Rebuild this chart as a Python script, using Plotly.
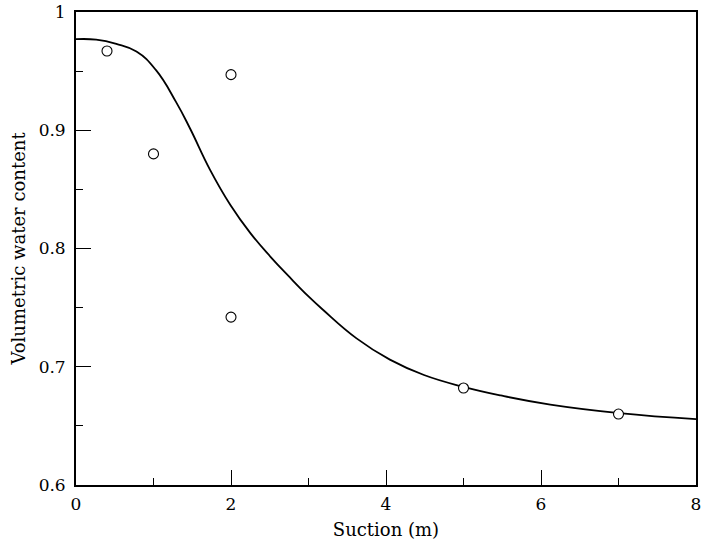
import plotly.graph_objects as go

# Fitted curve
curve_x = [0.0, 0.26, 0.52, 0.78, 1.03, 1.29, 1.47, 1.73, 1.99, 2.25, 2.51, 2.76,
           3.0, 3.19, 3.62, 4.05, 4.49, 5.0, 5.48, 6.12, 7.01, 8.0]
curve_y = [0.977, 0.9766, 0.973, 0.9665, 0.951, 0.924, 0.9017, 0.8665, 0.837, 0.813, 0.793, 0.7755,
           0.7595, 0.748, 0.724, 0.706, 0.693, 0.683, 0.6757, 0.668, 0.6608, 0.6557]

# Measured points
pts_x = [0.4, 1.0, 2.0, 2.0, 5.0, 7.0]
pts_y = [0.967, 0.880, 0.947, 0.742, 0.682, 0.660]

x_ticks = [0, 2, 4, 6, 8]
y_ticks = [0.6, 0.7, 0.8, 0.9, 1.0]
y_tick_labels = ["0.6", "0.7", "0.8", "0.9", "1"]

font_family = "DejaVu Serif"

fig = go.Figure()
fig.add_trace(go.Scatter(x=curve_x, y=curve_y, mode="lines",
                         line=dict(color="black", width=1.8, shape="spline", smoothing=1.3),
                         showlegend=False, hoverinfo="skip"))
fig.add_trace(go.Scatter(x=pts_x, y=pts_y, mode="markers",
                         marker=dict(symbol="circle", size=10, color="white",
                                     line=dict(color="black", width=1.1)),
                         showlegend=False))

fig.update_layout(
    width=703, height=549,
    margin=dict(l=76, r=7, t=12, b=64, autoexpand=False),
    paper_bgcolor="white", plot_bgcolor="white",
    font=dict(family=font_family, size=17, color="black"),
    xaxis=dict(range=[0, 8], tickvals=x_ticks, ticks="inside", ticklen=15, tickwidth=1.2,
               tickcolor="black", showline=True, linecolor="black", linewidth=1.8,
               mirror=True, showgrid=False, zeroline=False, automargin=False,
               minor=dict(ticks="inside", ticklen=7, tickwidth=1.2, dtick=1, tickcolor="black"),
               title=dict(text="Suction (m)", font=dict(size=18), standoff=10),
               tickfont=dict(size=17), ticklabelstandoff=3, ticklabeloverflow="allow"),
    yaxis=dict(range=[0.6, 1.0], tickvals=y_ticks, ticktext=y_tick_labels, ticks="inside",
               ticklen=15, tickwidth=1.2, tickcolor="black", showline=True, linecolor="black",
               linewidth=1.8, mirror=True, showgrid=False, zeroline=False, automargin=False,
               minor=dict(ticks="inside", ticklen=7, tickwidth=1.2, dtick=0.05, tickcolor="black"),
               title=dict(text="Volumetric water content", font=dict(size=18), standoff=8),
               tickfont=dict(size=17), ticklabelstandoff=5, ticklabeloverflow="allow"),
)

fig.write_html("out.html",
               config={"displayModeBar": False},
               post_script="document.body.style.margin='0';document.body.style.overflow='hidden';")
